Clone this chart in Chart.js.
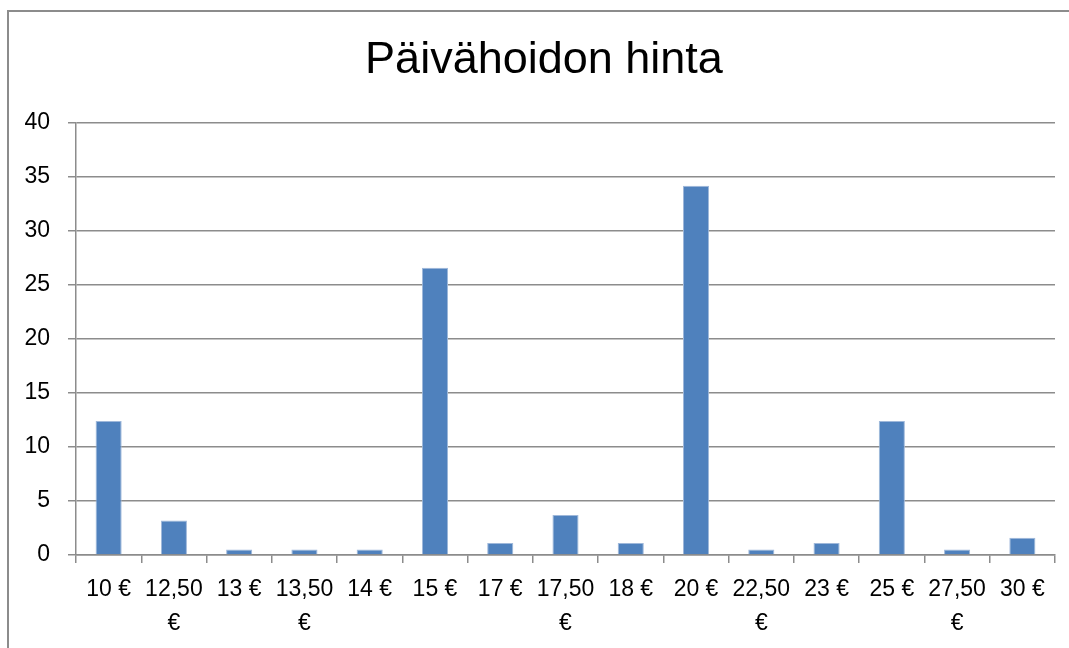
<!DOCTYPE html>
<html>
<head>
<meta charset="utf-8">
<script src="https://cdn.jsdelivr.net/npm/chart.js@4/dist/chart.umd.min.js"></script>
<style>
html, body { margin: 0; padding: 0; background: #fff; overflow: hidden; }
#wrap { position: absolute; left: 0; top: 0; width: 1069px; height: 648px; }
#frame { position: absolute; left: 7px; top: 10px; width: 1100px; height: 700px;
         border-left: 2px solid #8c8c8c; border-top: 2px solid #8c8c8c; }
</style>
</head>
<body>
<div id="frame"></div>
<div id="wrap"><canvas id="hinta"></canvas></div>
<script>
const categories = ['10 €', '12,50 €', '13 €', '13,50 €', '14 €', '15 €', '17 €', '17,50 €',
                    '18 €', '20 €', '22,50 €', '23 €', '25 €', '27,50 €', '30 €'];
const values = [12.4, 3.2, 0.5, 0.5, 0.5, 26.6, 1.1, 3.7, 1.1, 34.2, 0.5, 1.1, 12.4, 0.5, 1.6];
const yTicks = [0, 5, 10, 15, 20, 25, 30, 35, 40];

const font = 'Liberation Sans, Arial, sans-serif';

// the original title sits a bit right of the canvas centre
const shiftTitle = {
    id: 'shiftTitle',
    afterLayout(c) {
        if (c.titleBlock) c.titleBlock.left += 33;
    }
};

const ctx = document.getElementById('hinta');
const chart = new Chart(ctx, {
    type: 'bar',
    data: {
        labels: categories,
        datasets: [{
            data: values,
            backgroundColor: '#4f81bd',
            borderColor: '#9fb8da',
            borderWidth: 1,
            categoryPercentage: 0.4,
            barPercentage: 1
        }]
    },
    options: {
        responsive: true,
        maintainAspectRatio: false,
        animation: false,
        layout: { padding: { left: 0, right: 14, top: 10, bottom: 0 } },
        plugins: {
            legend: { display: false },
            tooltip: { enabled: false },
            title: {
                display: true,
                text: 'Päivähoidon hinta',
                color: '#000',
                font: { family: font, size: 45, weight: 'normal', lineHeight: 1.2 },
                padding: { top: 24, bottom: 35 }
            }
        },
        scales: {
            y: {
                min: 0,
                max: 40,
                afterBuildTicks: (s) => { s.ticks = yTicks.map(v => ({ value: v })); },
                afterFit: (s) => { s.width = 76; },
                ticks: { color: '#000', font: { family: font, size: 23 }, padding: 18 },
                grid: { color: '#8c8c8c', lineWidth: 1.5, tickLength: 8 },
                border: { color: '#8c8c8c', width: 1.5 }
            },
            x: {
                afterFit: (s) => { s.height = 93; },
                ticks: {
                    color: '#000',
                    maxRotation: 0,
                    autoSkip: false,
                    padding: 10,
                    font: { family: font, size: 23, lineHeight: 1.48 },
                    callback: function (v) {
                        const lbl = this.getLabelForValue(v);
                        return lbl.indexOf(',') >= 0 ? lbl.split(' ') : lbl;
                    }
                },
                grid: { drawOnChartArea: false, color: '#8c8c8c', lineWidth: 1.5, tickLength: 8, offset: true },
                border: { color: '#8c8c8c', width: 1.5 }
            }
        }
    },
    plugins: [shiftTitle]
});
</script>
</body>
</html>
